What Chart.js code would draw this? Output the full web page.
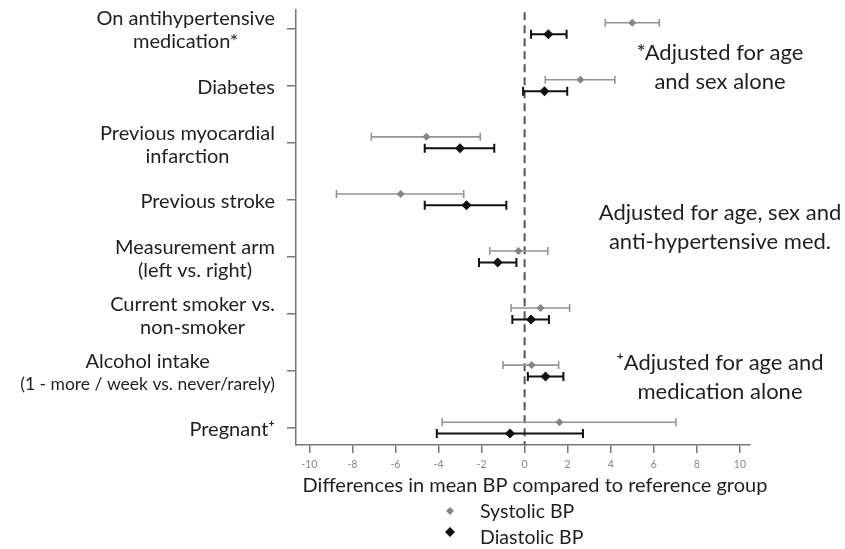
<!DOCTYPE html>
<html>
<head>
<meta charset="utf-8">
<script src="https://cdn.jsdelivr.net/npm/chart.js@4.4.1/dist/chart.umd.min.js"></script>
<style>
  html, body { margin: 0; padding: 0; background: #fff; }
  #wrap { width: 845px; height: 549px; position: relative; }
</style>
</head>
<body>
<div id="wrap"><canvas id="bp-chart"></canvas></div>
<script>
"use strict";

// rows top -> bottom
const categories = [
  ["On antihypertensive", "medication*"],
  ["Diabetes"],
  ["Previous myocardial", "infarction"],
  ["Previous stroke"],
  ["Measurement arm", "(left vs. right)"],
  ["Current smoker vs.", "non-smoker"],
  ["Alcohol intake", "(1 - more / week vs. never/rarely)"],
  ["Pregnant\u207A"],
];

const sysMean = [5.0, 2.59, -4.56, -5.76, -0.29, 0.74, 0.33, 1.62];
const sysLow = [3.75, 0.96, -7.12, -8.74, -1.62, -0.63, -1.0, -3.83];
const sysHigh = [6.26, 4.19, -2.06, -2.83, 1.08, 2.09, 1.58, 7.03];

const diaMean = [1.1, 0.92, -3.0, -2.7, -1.25, 0.3, 0.97, -0.68];
const diaLow = [0.3, -0.07, -4.64, -4.64, -2.12, -0.57, 0.15, -4.08];
const diaHigh = [1.95, 1.98, -1.41, -0.85, -0.38, 1.13, 1.8, 2.71];

const xTicks = [-10, -8, -6, -4, -2, 0, 2, 4, 6, 8, 10];

const xTitle = "Differences in mean BP compared to reference group";
const seriesNames = ["Systolic BP", "Diastolic BP"];

const notes = [
  ["*Adjusted for age", "and sex alone"],
  ["Adjusted for age, sex and", "anti-hypertensive med."],
  ["\u207AAdjusted for age and", "medication alone"],
];

const FONT = "Lato, 'Open Sans', sans-serif";
const TEXT = "#1f1f1f";
const SYS_COLOR = "#858585";
const SYS_BAR = "#949494";
const DIA_COLOR = "#111111";

function pts(vals, shift) {
  return vals.map((v, i) => ({ x: v, y: i + shift }));
}

// whiskers + dashed zero line
const errorBars = {
  id: "errorBars",
  beforeDatasetsDraw(chart) {
    const { ctx, chartArea, scales: { x, y } } = chart;
    const x0 = x.getPixelForValue(0);
    ctx.save();
    ctx.strokeStyle = "#555";
    ctx.lineWidth = 2;
    ctx.setLineDash([8, 5]);
    ctx.beginPath();
    ctx.moveTo(x0, chartArea.top + 2);
    ctx.lineTo(x0, chartArea.bottom);
    ctx.stroke();
    ctx.setLineDash([]);

    chart.data.datasets.forEach((ds) => {
      ctx.strokeStyle = ds.barColor;
      ctx.lineWidth = ds.barWidth;
      ds.low.forEach((lo, i) => {
        const py = y.getPixelForValue(ds.data[i].y);
        const a = x.getPixelForValue(lo);
        const b = x.getPixelForValue(ds.high[i]);
        const c = ds.cap;
        ctx.beginPath();
        ctx.moveTo(a, py);
        ctx.lineTo(b, py);
        ctx.moveTo(a, py - c);
        ctx.lineTo(a, py + c);
        ctx.moveTo(b, py - c);
        ctx.lineTo(b, py + c);
        ctx.stroke();
      });
    });
    ctx.restore();
  },
};

// category labels, axis title, legend, notes
const textLayer = {
  id: "textLayer",
  afterDraw(chart) {
    const { ctx, scales: { x, y } } = chart;
    ctx.save();
    ctx.fillStyle = TEXT;
    ctx.textBaseline = "middle";
    ctx.textAlign = "center";

    const lh = 23;
    categories.forEach((lines, i) => {
      const fonts = lines.map((l, k) =>
        i === 6 && k === 1 ? "17.5px " + FONT : "20px " + FONT
      );
      let maxW = 0;
      lines.forEach((l, k) => {
        ctx.font = fonts[k];
        maxW = Math.max(maxW, ctx.measureText(l).width);
      });
      const cx = 275 - maxW / 2;
      const cy = y.getPixelForValue(i) + 2;
      const top = cy - ((lines.length - 1) * lh) / 2;
      lines.forEach((l, k) => {
        ctx.font = fonts[k];
        ctx.fillText(l, cx, top + k * lh);
      });
    });

    ctx.font = "20px " + FONT;
    ctx.fillText(xTitle, 535, 486);

    // legend
    const legendY = [511, 532];
    const textY = [512, 538];
    ctx.font = "19.5px " + FONT;
    chart.data.datasets.forEach((ds, i) => {
      const r = ds.pointRadius;
      const mx = 450;
      const my = legendY[i];
      ctx.fillStyle = ds.backgroundColor;
      ctx.beginPath();
      ctx.moveTo(mx, my - r);
      ctx.lineTo(mx + r, my);
      ctx.lineTo(mx, my + r);
      ctx.lineTo(mx - r, my);
      ctx.closePath();
      ctx.fill();
      ctx.fillStyle = TEXT;
      ctx.textAlign = "left";
      ctx.fillText(seriesNames[i], 480, textY[i]);
    });

    ctx.textAlign = "center";
    ctx.font = "22px " + FONT;
    const noteY = [53, 213, 363];
    notes.forEach((lines, n) => {
      lines.forEach((l, k) => {
        ctx.fillText(l, 720, noteY[n] + k * 29);
      });
    });
    ctx.restore();
  },
};

new Chart(document.getElementById("bp-chart"), {
  type: "scatter",
  data: {
    datasets: [
      {
        label: seriesNames[0],
        data: pts(sysMean, -0.1),
        low: sysLow,
        high: sysHigh,
        barColor: SYS_BAR,
        barWidth: 1.6,
        cap: 4,
        pointStyle: "rectRot",
        pointRadius: 4,
        backgroundColor: SYS_COLOR,
        borderColor: SYS_COLOR,
        borderWidth: 0,
      },
      {
        label: seriesNames[1],
        data: pts(diaMean, 0.1),
        low: diaLow,
        high: diaHigh,
        barColor: DIA_COLOR,
        barWidth: 2,
        cap: 4.5,
        pointStyle: "rectRot",
        pointRadius: 5,
        backgroundColor: DIA_COLOR,
        borderColor: DIA_COLOR,
        borderWidth: 0,
      },
    ],
  },
  options: {
    responsive: true,
    maintainAspectRatio: false,
    animation: false,
    layout: { padding: { top: 10, right: 95, left: 0, bottom: 0 } },
    plugins: {
      legend: { display: false },
      tooltip: { enabled: false },
    },
    scales: {
      x: {
        type: "linear",
        min: -10.62,
        max: 10.47,
        afterBuildTicks: (s) => {
          s.ticks = xTicks.map((v) => ({ value: v }));
        },
        afterFit: (s) => {
          s.height = 104;
        },
        grid: {
          drawOnChartArea: false,
          tickLength: 8,
          color: "#777",
          lineWidth: 1.5,
        },
        border: { color: "#777", width: 1.5 },
        ticks: {
          autoSkip: false,
          maxRotation: 0,
          padding: 5,
          color: "#888",
          font: { family: FONT, size: 10.5 },
        },
      },
      y: {
        type: "linear",
        reverse: true,
        min: -0.32,
        max: 7.3,
        afterBuildTicks: (s) => {
          s.ticks = categories.map((c, i) => ({ value: i }));
        },
        afterFit: (s) => {
          s.width = 296;
        },
        grid: {
          drawOnChartArea: false,
          tickLength: 9,
          color: "#777",
          lineWidth: 1.5,
        },
        border: { color: "#777", width: 1.5 },
        ticks: { callback: () => "" },
      },
    },
  },
  plugins: [errorBars, textLayer],
});
</script>
</body>
</html>
